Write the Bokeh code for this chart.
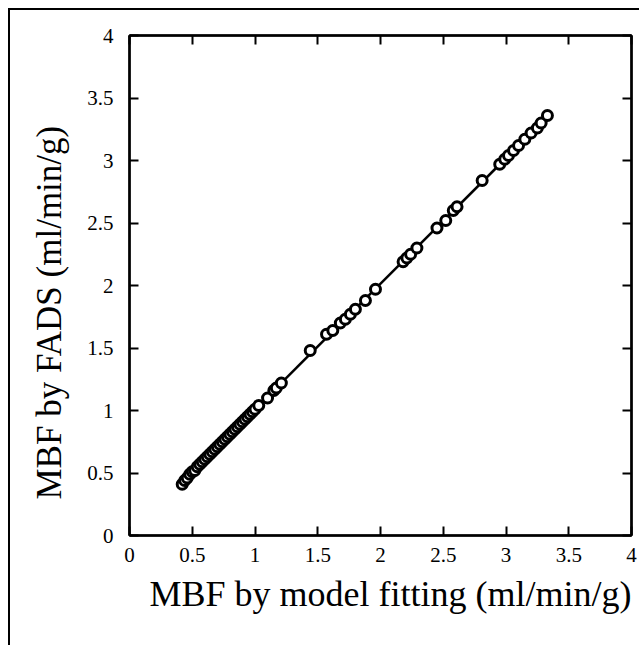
from bokeh.plotting import figure
from bokeh.models import Range1d, LinearAxis, FixedTicker, Title
from bokeh.embed import file_html
from bokeh.resources import INLINE
import numpy as np

# ---- data ----
model_fit = [0.42, 0.44, 0.46, 0.48, 0.50, 0.52, 0.54, 0.56, 0.58, 0.60, 0.62, 0.64,
             0.66, 0.68, 0.70, 0.72, 0.74, 0.76, 0.78, 0.80, 0.82, 0.84, 0.86, 0.88,
             0.90, 0.92, 0.94, 0.96, 0.98, 1.00, 1.03, 1.10, 1.15, 1.17, 1.21, 1.44,
             1.57, 1.62, 1.68, 1.72, 1.76, 1.80, 1.88, 1.96, 2.18, 2.21, 2.24, 2.29,
             2.45, 2.52, 2.58, 2.61, 2.81, 2.95, 2.99, 3.02, 3.06, 3.10, 3.15, 3.20,
             3.25, 3.28, 3.33]
fads = [0.41, 0.44, 0.46, 0.49, 0.51, 0.52, 0.55, 0.57, 0.59, 0.61, 0.63, 0.65,
        0.67, 0.69, 0.71, 0.73, 0.75, 0.77, 0.79, 0.81, 0.83, 0.85, 0.87, 0.89,
        0.91, 0.93, 0.95, 0.97, 0.99, 1.01, 1.04, 1.10, 1.16, 1.18, 1.22, 1.48,
        1.61, 1.64, 1.70, 1.73, 1.77, 1.81, 1.88, 1.97, 2.19, 2.22, 2.25, 2.30,
        2.46, 2.52, 2.60, 2.63, 2.84, 2.97, 3.01, 3.04, 3.08, 3.12, 3.17, 3.22,
        3.26, 3.30, 3.36]
tick_values = [0, 0.5, 1, 1.5, 2, 2.5, 3, 3.5, 4]
tick_labels = ["0", "0.5", "1", "1.5", "2", "2.5", "3", "3.5", "4"]
x_title = "MBF by model fitting (ml/min/g)"
y_title = "MBF by FADS (ml/min/g)"

FONT = "Liberation Serif"

p = figure(width=631, height=637, output_backend="svg", toolbar_location=None,
           x_range=Range1d(0, 4), y_range=Range1d(0, 4),
           min_border_left=119, min_border_right=10, min_border_top=25,
           min_border_bottom=112, x_axis_location=None, y_axis_location=None)
p.styles = {"margin-left": "8px", "margin-top": "8px",
            "border-left": "2px solid black", "border-top": "2px solid black"}
p.xgrid.visible = False
p.ygrid.visible = False
p.outline_line_color = "black"
p.outline_line_width = 2
p.background_fill_color = "white"
p.border_fill_color = "white"

overrides = {v: l for v, l in zip(tick_values, tick_labels)}
blank = {v: "" for v in tick_values}

def style_axis(ax, labels=True):
    ax.ticker = FixedTicker(ticks=tick_values)
    ax.axis_line_color = "black"
    ax.axis_line_width = 2.5
    ax.major_tick_in = 9
    ax.major_tick_out = 0
    ax.major_tick_line_width = 2
    ax.major_tick_line_color = "black"
    ax.minor_tick_line_color = None
    ax.major_label_text_font = FONT
    ax.major_label_text_color = "black"
    ax.major_label_text_font_size = "21px"
    ax.axis_label_standoff = 0
    if labels:
        ax.major_label_overrides = overrides
    else:
        ax.major_label_overrides = blank
        ax.major_label_standoff = 0

xb = LinearAxis()
style_axis(xb)
xb.major_label_standoff = 12
p.add_layout(xb, "below")

yl = LinearAxis()
style_axis(yl)
yl.major_label_standoff = 16
p.add_layout(yl, "left")

xt = LinearAxis()
style_axis(xt, labels=False)
p.add_layout(xt, "above")
yr = LinearAxis()
style_axis(yr, labels=False)
p.add_layout(yr, "right")

p.add_layout(Title(text=x_title, align="right", offset=0, standoff=14,
                   text_font=FONT, text_font_size="36px",
                   text_font_style="normal", text_color="black"), "below")
p.add_layout(Title(text=y_title, align="left", offset=36, standoff=27,
                   vertical_align="top",
                   text_font=FONT, text_font_size="35px",
                   text_font_style="normal", text_color="black"), "left")

# regression line over data range
xa = np.array(model_fit)
ya = np.array(fads)
slope, intercept = np.polyfit(xa, ya, 1)
lx = [xa.min(), xa.max()]
ly = [slope * v + intercept for v in lx]
p.line(lx, ly, line_color="black", line_width=2.5)

p.scatter(model_fit, fads, marker="circle", size=10, fill_color="white",
          line_color="black", line_width=3)

open("out.html", "w").write(file_html(p, INLINE))
